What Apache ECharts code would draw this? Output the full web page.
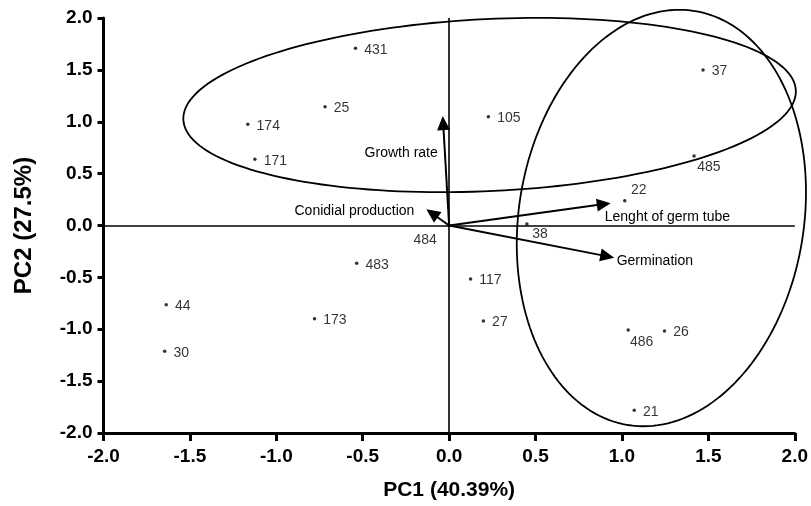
<!DOCTYPE html>
<html><head><meta charset="utf-8">
<script src="https://cdn.jsdelivr.net/npm/echarts@6/dist/echarts.min.js"></script>
<style>html,body{margin:0;padding:0;background:#fff}#c{width:811px;height:506px}</style>
</head><body><div id="c"></div>
<script>
// ---- data ----
const pointNames = ['431','25','174','171','105','37','485','22','38','484','483','117','27','44','30','173','486','26','21'];
const pc1 = [-0.542,-0.718,-1.165,-1.124,0.227,1.469,1.417,1.016,0.450,0.000,-0.535,0.124,0.198,-1.637,-1.646,-0.779,1.036,1.246,1.071];
const pc2 = [1.708,1.145,0.975,0.638,1.049,1.499,0.670,0.239,0.014,0.000,-0.364,-0.516,-0.920,-0.763,-1.213,-0.898,-1.007,-1.017,-1.781];

const loadingNames = ['Growth rate','Conidial production','Lenght of germ tube','Germination'];
const loadingPC1 = [-0.037,-0.132,0.935,0.955];
const loadingPC2 = [1.055,0.156,0.215,-0.310];

// ellipses (data units): centre, first semi-diameter, second semi-diameter
const ellipseCenter = [[0.234,1.161],[1.228,0.072]];
const ellipseAxisU  = [[1.772,0.142],[0.194,1.995]];
const ellipseAxisV  = [[0.024,-0.828],[0.814,-0.220]];

const xTicks = {min:-2, max:2, step:0.5};
const yTicks = {min:-2, max:2, step:0.5};

// ---- styles ----
const FONT = '"Liberation Sans", Arial, Helvetica, sans-serif';
const pointLabelOffset = {'485':[-5.5,11],'22':[-2.5,-11],'38':[-3.5,10],'486':[-7,11.7],'484':[-44.5,15]};
const arrowLabelStyle = {
  'Growth rate':{dx:-5,dy:37,align:'right'},
  'Conidial production':{dx:-12,dy:1.5,align:'right'},
  'Lenght of germ tube':{dx:-6,dy:14,align:'left'},
  'Germination':{dx:2.5,dy:3,align:'left'}
};

const pointData = pointNames.map((n,i)=>{
  const o = {name:n, value:[pc1[i],pc2[i]]};
  if (pointLabelOffset[n]) o.label = {offset:pointLabelOffset[n]};
  return o;
});
const loadingData = loadingNames.map((n,i)=>[loadingPC1[i],loadingPC2[i],i]);
const ellipseData = ellipseCenter.map((c,i)=>[c[0],c[1],ellipseAxisU[i][0],ellipseAxisU[i][1],ellipseAxisV[i][0],ellipseAxisV[i][1]]);

const chart = echarts.init(document.getElementById('c'),null,{renderer:'canvas'});

function axisCommon(t){
  return {
    type:'value', min:t.min, max:t.max, interval:t.step,
    axisLine:{show:true,onZero:false,lineStyle:{color:'#000',width:3}},
    axisTick:{show:true,lineStyle:{color:'#000',width:3}},
    splitLine:{show:false},
    axisLabel:{color:'#000',fontSize:19,fontWeight:'bold',fontFamily:FONT,formatter:v=>v.toFixed(1)},
    nameLocation:'middle',
    nameTextStyle:{color:'#000',fontWeight:'bold',fontFamily:FONT}
  };
}
const xAxis = axisCommon(xTicks);
xAxis.axisTick.length = 8; xAxis.axisLabel.margin = 14;
xAxis.name = 'PC1 (40.39%)'; xAxis.nameGap = 47; xAxis.nameTextStyle.fontSize = 21;
const yAxis = axisCommon(yTicks);
yAxis.axisTick.length = 6; yAxis.axisLabel.margin = 11;
yAxis.name = 'PC2 (27.5%)'; yAxis.nameGap = 67; yAxis.nameRotate = 90; yAxis.nameTextStyle.fontSize = 24;

chart.setOption({
  animation:false,
  backgroundColor:'#fff',
  grid:{left:103.5,right:15.5,top:18,bottom:73,containLabel:false},
  xAxis:xAxis, yAxis:yAxis,
  series:[
    {
      type:'custom', name:'ellipses', clip:false, z:2,
      encode:{x:0,y:1},
      data:ellipseData,
      renderItem:function(params,api){
        const cx=api.value(0), cy=api.value(1), ux=api.value(2), uy=api.value(3), vx=api.value(4), vy=api.value(5);
        const pts=[];
        const N=180;
        for(let k=0;k<N;k++){
          const t=2*Math.PI*k/N;
          pts.push(api.coord([cx+ux*Math.cos(t)+vx*Math.sin(t), cy+uy*Math.cos(t)+vy*Math.sin(t)]));
        }
        return {type:'polygon',shape:{points:pts},style:{fill:'none',stroke:'#000',lineWidth:1.8}};
      }
    },
    {
      type:'scatter', name:'isolates', z:5,
      symbol:'circle', symbolSize:3.5,
      itemStyle:{color:'#000'},
      data:pointData,
      label:{show:true,position:'right',distance:7,offset:[0,1.5],formatter:p=>p.name,color:'#000',fontSize:14,fontFamily:FONT},
      markLine:{
        silent:true, symbol:'none', animation:false,
        label:{show:false},
        lineStyle:{color:'#000',width:1.6,type:'solid'},
        emphasis:{disabled:true},
        data:[{xAxis:0},{yAxis:0}]
      }
    },
    {
      type:'custom', name:'loadings', clip:false, z:4,
      encode:{x:0,y:1},
      data:loadingData,
      renderItem:function(params,api){
        const o=api.coord([0,0]);
        const e=api.coord([api.value(0),api.value(1)]);
        const name=loadingNames[api.value(2)];
        const dx=e[0]-o[0], dy=e[1]-o[1];
        const len=Math.sqrt(dx*dx+dy*dy);
        const ux=dx/len, uy=dy/len, nx=-uy, ny=ux;
        const L=14, W=13;
        const b=[e[0]-ux*L, e[1]-uy*L];
        const st=arrowLabelStyle[name];
        return {type:'group',children:[
          {type:'line',shape:{x1:o[0],y1:o[1],x2:b[0]+ux*2,y2:b[1]+uy*2},style:{stroke:'#000',lineWidth:2}},
          {type:'polygon',shape:{points:[[e[0],e[1]],[b[0]+nx*W/2,b[1]+ny*W/2],[b[0]-nx*W/2,b[1]-ny*W/2]]},style:{fill:'#000'}},
          {type:'text',style:{text:name,x:e[0]+st.dx,y:e[1]+st.dy,align:st.align,verticalAlign:'middle',fill:'#000',font:'14px '+FONT}}
        ]};
      }
    }
  ]
});
</script>
</body></html>
